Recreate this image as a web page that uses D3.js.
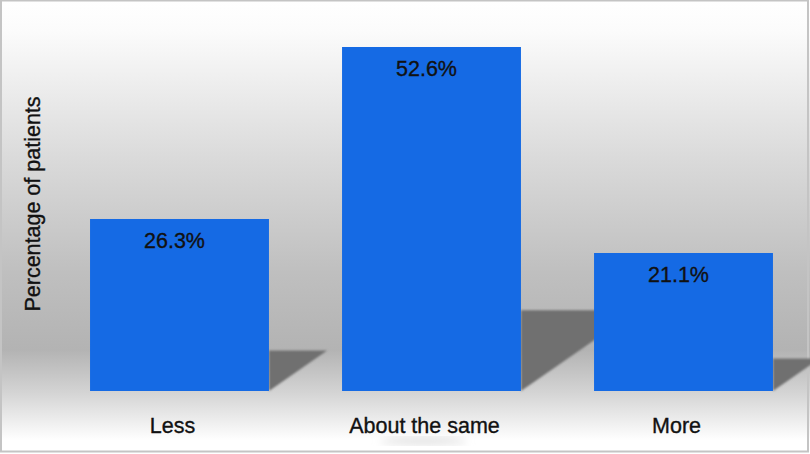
<!DOCTYPE html>
<meta charset="utf-8">
<style>
body{ margin: 0; background: white; }
svg{ display: block; font-family: "Liberation Sans", Arial, Helvetica, sans-serif; }
svg text{ stroke: #111; stroke-width: 0.35px; }
</style>
<body>
<div id="chart"></div>
<script src="https://cdn.jsdelivr.net/npm/d3@7/dist/d3.min.js"></script>
<script>

var categories = ['Less', 'About the same', 'More']
var values = [26.3, 52.6, 21.1]
var valueLabels = ['26.3%', '52.6%', '21.1%']
var yTitle = 'Percentage of patients'

var width = 810,
    height = 454,
    base = 391,
    shadowDepth = 0.235,
    shadowSlope = 1.44,
    labelShift = -7

var svg = d3.select('#chart').append('svg')
    .attr('width', width)
    .attr('height', height)

var defs = svg.append('defs')
var bg = defs.append('linearGradient')
    .attr('id', 'bg')
    .attr('x1', 0).attr('y1', 0).attr('x2', 0).attr('y2', 1)
bg.selectAll('stop')
    .data([[0, '#ffffff'], [0.07, '#fbfbfb'], [0.35, '#dadada'], [0.6, '#bfbfbf'], [0.77, '#b3b3b3'], [0.865, '#d4d4d4'], [0.97, '#ffffff'], [1, '#ffffff']])
  .enter().append('stop')
    .attr('offset', function(d){ return d[0] })
    .attr('stop-color', function(d){ return d[1] })

defs.append('filter').attr('id', 'blur')
  .append('feGaussianBlur').attr('stdDeviation', 1.3)
defs.append('filter').attr('id', 'blur2')
  .append('feGaussianBlur').attr('stdDeviation', 4)

svg.append('rect')
    .attr('width', width).attr('height', height)
    .attr('fill', 'url(#bg)')

// frame
svg.append('rect')
    .attr('x', 1).attr('y', 0.5)
    .attr('width', width - 3).attr('height', height - 3)
    .attr('fill', 'none')
    .attr('stroke', '#c4c4c4')
    .attr('stroke-width', 2)

var x = d3.scaleBand()
    .domain(categories)
    .range([53.5, 809.5])
    .paddingInner(0.29)
    .paddingOuter(0.145)

var y = d3.scaleLinear()
    .domain([0, 60])
    .range([base, base - 60 * 6.54])

// faint reflection on the floor under the middle label
svg.append('ellipse')
    .attr('cx', x('About the same') + x.bandwidth() / 2 - 8)
    .attr('cy', 441)
    .attr('rx', 44).attr('ry', 4)
    .attr('fill', '#e2e2e2')
    .attr('filter', 'url(#blur2)')

// shadows behind bars
svg.selectAll('.shadow')
    .data(values)
  .enter().append('path')
    .attr('class', 'shadow')
    .attr('fill', '#707070')
    .attr('filter', 'url(#blur)')
    .attr('d', function(d, i){
      var x0 = x(categories[i]) + x.bandwidth()
      var top = y(d * shadowDepth)
      var w = (base - top) * shadowSlope
      return 'M' + x0 + ',' + top + 'L' + (x0 + w) + ',' + top + 'L' + x0 + ',' + base + 'Z'
    })

svg.selectAll('.bar')
    .data(values)
  .enter().append('rect')
    .attr('class', 'bar')
    .attr('x', function(d, i){ return x(categories[i]) })
    .attr('y', function(d){ return y(d) })
    .attr('width', x.bandwidth())
    .attr('height', function(d){ return base - y(d) })
    .attr('fill', '#156ae4')

svg.selectAll('.val')
    .data(values)
  .enter().append('text')
    .attr('class', 'val')
    .attr('x', function(d, i){ return x(categories[i]) + x.bandwidth() / 2 + labelShift + 2 })
    .attr('y', function(d){ return y(d) + 29 })
    .attr('text-anchor', 'middle')
    .style('font-size', '21.5px')
    .attr('fill', '#111')
    .text(function(d, i){ return valueLabels[i] })

var xAxis = svg.append('g')
    .attr('transform', 'translate(' + labelShift + ',' + base + ')')
    .call(d3.axisBottom(x).tickSize(0).tickPadding(0))
xAxis.select('.domain').remove()
xAxis.selectAll('text')
    .attr('dy', null)
    .attr('y', 42)
    .style('font-size', '21.5px')
    .style('font-family', '"Liberation Sans", Arial, sans-serif')
    .attr('fill', '#111')

svg.append('text')
    .attr('transform', 'translate(40,' + 204 + ') rotate(-90)')
    .attr('text-anchor', 'middle')
    .style('font-size', '21.5px')
    .attr('fill', '#111')
    .text(yTitle)

</script>
